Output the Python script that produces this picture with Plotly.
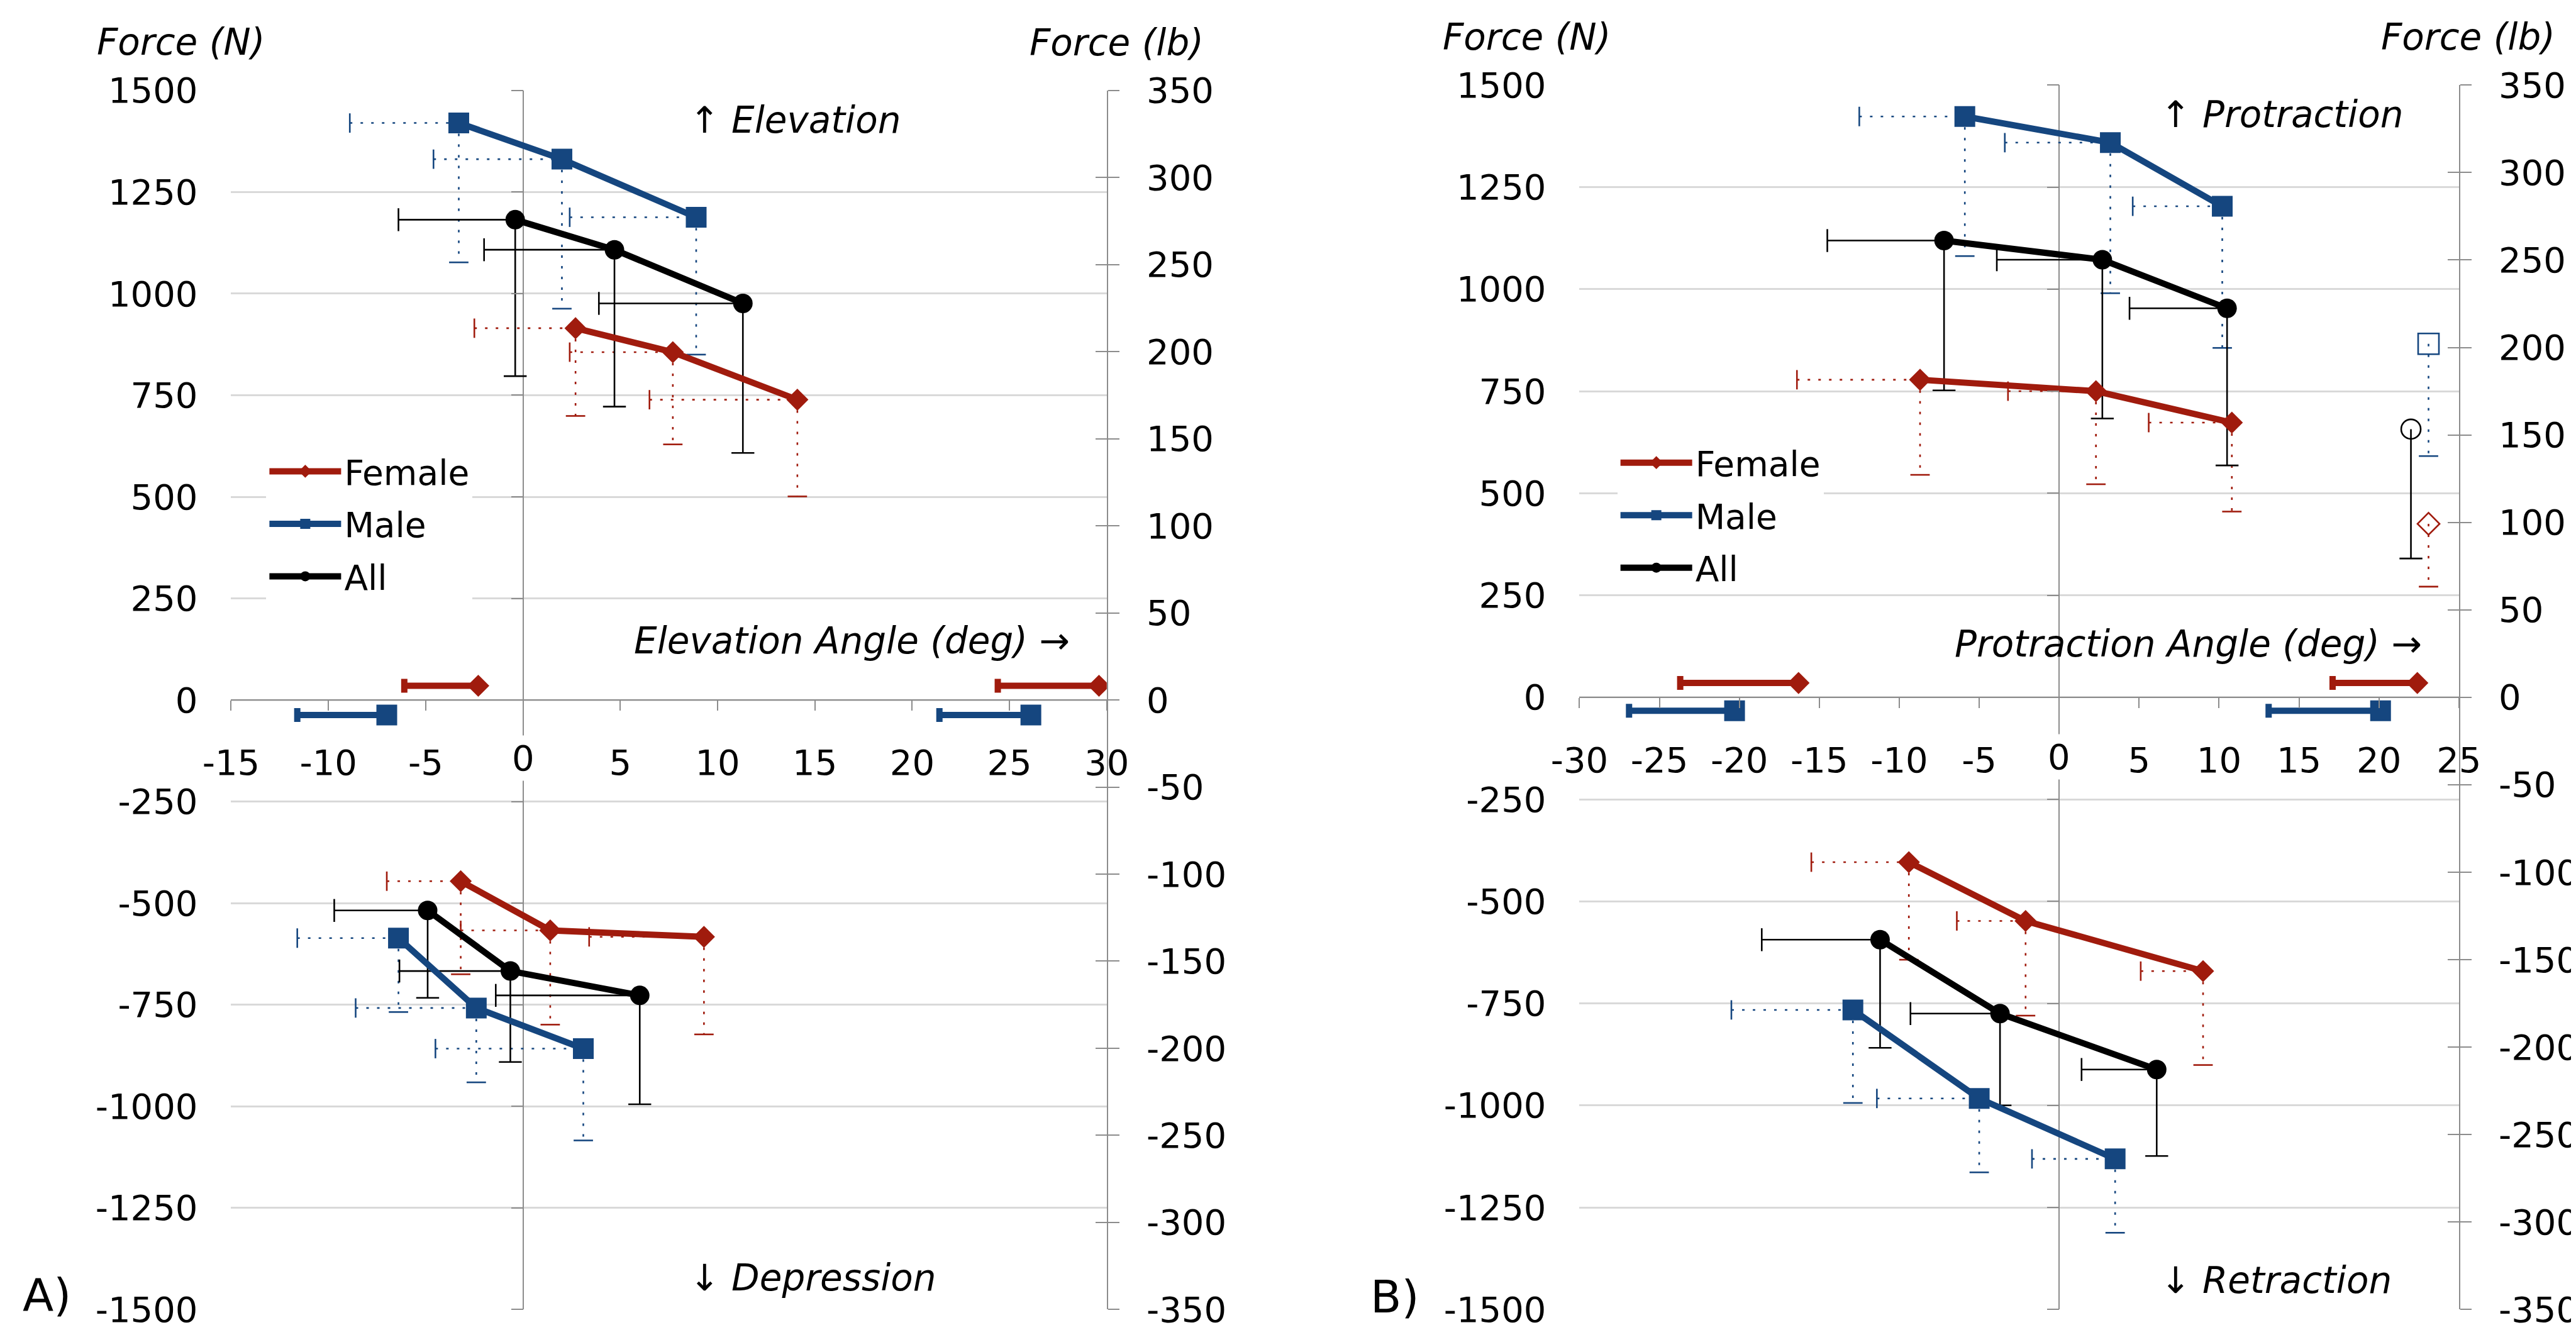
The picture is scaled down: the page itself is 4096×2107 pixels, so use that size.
import plotly.graph_objects as go

# ---------------- scale helpers (reference pixel -> paper) ----------------
S = 0.86
W, H = 4096, 2107


def px(xf):
    return xf * S / W


def py(yf):
    return 1 - yf * S / H


RED = '#a01b0d'
BLUE = '#15467f'
BLACK = '#000000'
GRID = '#d9d9d9'
AXIS = '#8c8c8c'
FONT = 'DejaVu Sans'

# ---------------- tick labels ----------------
N_TICKS = [-1500, -1250, -1000, -750, -500, -250, 0, 250, 500, 750, 1000, 1250, 1500]
LB_TICKS = [-350, -300, -250, -200, -150, -100, -50, 0, 50, 100, 150, 200, 250, 300, 350]
A_X_TICKS = [-15, -10, -5, 0, 5, 10, 15, 20, 25, 30]
B_X_TICKS = [-30, -25, -20, -15, -10, -5, 0, 5, 10, 15, 20, 25]
N_RANGE = [-1500, 1500]
LB_RANGE = [-350, 350]
A_X_RANGE = [-15, 30]
B_X_RANGE = [-30, 25]

# ---------------- DATA : Panel A (elevation / depression) ----------------
A_FEM_ELEV_DEG = [2.7, 7.7, 14.1]
A_FEM_ELEV_N = [915, 856, 739]
A_FEM_ELEV_SD_DEG = [5.2, 5.3, 7.6]
A_FEM_ELEV_SD_N = [216, 227, 238]

A_MALE_ELEV_DEG = [-3.3, 2.0, 8.9]
A_MALE_ELEV_N = [1420, 1331, 1188]
A_MALE_ELEV_SD_DEG = [5.6, 6.6, 6.5]
A_MALE_ELEV_SD_N = [343, 368, 338]

A_ALL_ELEV_DEG = [-0.4, 4.7, 11.3]
A_ALL_ELEV_N = [1182, 1108, 976]
A_ALL_ELEV_SD_DEG = [6.0, 6.7, 7.4]
A_ALL_ELEV_SD_N = [385, 386, 368]

A_FEM_DEP_DEG = [-3.2, 1.4, 9.3]
A_FEM_DEP_N = [-446, -567, -583]
A_FEM_DEP_SD_DEG = [3.8, 4.6, 5.9]
A_FEM_DEP_SD_N = [229, 232, 240]

A_MALE_DEP_DEG = [-6.4, -2.4, 3.1]
A_MALE_DEP_N = [-586, -758, -858]
A_MALE_DEP_SD_DEG = [5.2, 6.2, 7.6]
A_MALE_DEP_SD_N = [182, 183, 226]

A_ALL_DEP_DEG = [-4.9, -0.65, 6.0]
A_ALL_DEP_N = [-518, -667, -727]
A_ALL_DEP_SD_DEG = [4.8, 5.7, 7.4]
A_ALL_DEP_SD_N = [215, 224, 268]

A_FEM_RANGE_DEG = [-2.3, 29.6]
A_FEM_RANGE_SD = [3.8, 5.2]
A_FEM_RANGE_N = [35, 35]
A_MALE_RANGE_DEG = [-7.0, 26.1]
A_MALE_RANGE_SD = [4.6, 4.7]
A_MALE_RANGE_N = [-37, -37]

# ---------------- DATA : Panel B (protraction / retraction) ----------------
B_FEM_PRO_DEG = [-8.7, 2.3, 10.8]
B_FEM_PRO_N = [778, 750, 673]
B_FEM_PRO_SD_DEG = [7.7, 5.5, 5.2]
B_FEM_PRO_SD_N = [233, 228, 218]

B_MALE_PRO_DEG = [-5.9, 3.2, 10.2]
B_MALE_PRO_N = [1423, 1359, 1203]
B_MALE_PRO_SD_DEG = [6.6, 6.6, 5.6]
B_MALE_PRO_SD_N = [342, 369, 347]

B_ALL_PRO_DEG = [-7.2, 2.7, 10.5]
B_ALL_PRO_N = [1119, 1072, 953]
B_ALL_PRO_SD_DEG = [7.3, 6.6, 6.1]
B_ALL_PRO_SD_N = [367, 389, 385]

B_FEM_RET_DEG = [-9.4, -2.1, 9.0]
B_FEM_RET_N = [-404, -548, -671]
B_FEM_RET_SD_DEG = [6.1, 4.3, 3.9]
B_FEM_RET_SD_N = [239, 232, 230]

B_MALE_RET_DEG = [-12.9, -5.0, 3.5]
B_MALE_RET_N = [-766, -983, -1131]
B_MALE_RET_SD_DEG = [7.6, 6.4, 5.2]
B_MALE_RET_SD_N = [228, 181, 181]

B_ALL_RET_DEG = [-11.2, -3.7, 6.1]
B_ALL_RET_N = [-594, -775, -912]
B_ALL_RET_SD_DEG = [7.4, 5.6, 4.7]
B_ALL_RET_SD_N = [265, 225, 212]

B_FEM_RANGE_DEG = [-16.3, 22.4]
B_FEM_RANGE_SD = [7.4, 5.3]
B_FEM_RANGE_N = [35, 35]
B_MALE_RANGE_DEG = [-20.3, 20.1]
B_MALE_RANGE_SD = [6.6, 7.0]
B_MALE_RANGE_N = [-33, -33]

B_ALT_FEM_DEG = [23.1]
B_ALT_FEM_N = [425]
B_ALT_FEM_SD_N = [154]
B_ALT_MALE_DEG = [23.1]
B_ALT_MALE_N = [866]
B_ALT_MALE_SD_N = [275]
B_ALT_ALL_DEG = [22.0]
B_ALT_ALL_N = [657]
B_ALT_ALL_SD_N = [317]


def fmt(v):
    return ('-' if v < 0 else '') + str(abs(v))


fig = go.Figure()

DOT = '4px,13px'


def err_bars(deg, force, sd_deg, sd_n, color, dash, xa, ya, width=2.6, capsize=24):
    xs, ys, cx, cy, sym = [], [], [], [], []
    for x, y, ex, ey in zip(deg, force, sd_deg, sd_n):
        if ex:
            xs += [x - ex, x, None]
            ys += [y, y, None]
            cx.append(x - ex)
            cy.append(y)
            sym.append('line-ns')
        if ey:
            xs += [x, x, None]
            ys += [y, y - ey, None]
            cx.append(x)
            cy.append(y - ey)
            sym.append('line-ew')
    fig.add_trace(go.Scatter(x=xs, y=ys, mode='lines',
                             line=dict(color=color, width=width, dash=dash),
                             xaxis=xa, yaxis=ya, showlegend=False, hoverinfo='skip'))
    fig.add_trace(go.Scatter(x=cx, y=cy, mode='markers',
                             marker=dict(symbol=sym, size=capsize, color=color,
                                         line=dict(color=color, width=width)),
                             xaxis=xa, yaxis=ya, showlegend=False, hoverinfo='skip'))


def series(deg, force, color, symbol, size, name, xa, ya, legend, show):
    fig.add_trace(go.Scatter(x=deg, y=force, mode='lines+markers', name=name,
                             line=dict(color=color, width=10),
                             marker=dict(symbol=symbol, size=size, color=color),
                             xaxis=xa, yaxis=ya, legend=legend, legendgroup=legend + name,
                             showlegend=show, hoverinfo='skip'))


def range_marker(deg, sd, yv, color, symbol, size, xa, ya):
    fig.add_trace(go.Scatter(x=deg, y=yv, mode='markers',
                             marker=dict(symbol=symbol, size=size, color=color),
                             error_x=dict(type='data', symmetric=False, array=[0] * len(deg),
                                          arrayminus=sd, color=color, thickness=10, width=11),
                             xaxis=xa, yaxis=ya, showlegend=False, hoverinfo='skip'))


SQ, CI, DI = 33, 31, 27

# ---------------- Panel A traces ----------------
for d, f, sx, sn in [(A_FEM_ELEV_DEG, A_FEM_ELEV_N, A_FEM_ELEV_SD_DEG, A_FEM_ELEV_SD_N),
                     (A_FEM_DEP_DEG, A_FEM_DEP_N, A_FEM_DEP_SD_DEG, A_FEM_DEP_SD_N)]:
    err_bars(d, f, sx, sn, RED, DOT, 'x', 'y', width=2.6, capsize=22)
for d, f, sx, sn in [(A_MALE_ELEV_DEG, A_MALE_ELEV_N, A_MALE_ELEV_SD_DEG, A_MALE_ELEV_SD_N),
                     (A_MALE_DEP_DEG, A_MALE_DEP_N, A_MALE_DEP_SD_DEG, A_MALE_DEP_SD_N)]:
    err_bars(d, f, sx, sn, BLUE, DOT, 'x', 'y', width=2.6, capsize=22)
for d, f, sx, sn in [(A_ALL_ELEV_DEG, A_ALL_ELEV_N, A_ALL_ELEV_SD_DEG, A_ALL_ELEV_SD_N),
                     (A_ALL_DEP_DEG, A_ALL_DEP_N, A_ALL_DEP_SD_DEG, A_ALL_DEP_SD_N)]:
    err_bars(d, f, sx, sn, BLACK, 'solid', 'x', 'y', width=2.6, capsize=26)

series(A_FEM_ELEV_DEG, A_FEM_ELEV_N, RED, 'diamond', DI, 'Female', 'x', 'y', 'legend', True)
series(A_FEM_DEP_DEG, A_FEM_DEP_N, RED, 'diamond', DI, 'Female', 'x', 'y', 'legend', False)
series(A_MALE_ELEV_DEG, A_MALE_ELEV_N, BLUE, 'square', SQ, 'Male', 'x', 'y', 'legend', True)
series(A_MALE_DEP_DEG, A_MALE_DEP_N, BLUE, 'square', SQ, 'Male', 'x', 'y', 'legend', False)
series(A_ALL_ELEV_DEG, A_ALL_ELEV_N, BLACK, 'circle', CI, 'All', 'x', 'y', 'legend', True)
series(A_ALL_DEP_DEG, A_ALL_DEP_N, BLACK, 'circle', CI, 'All', 'x', 'y', 'legend', False)

range_marker(A_FEM_RANGE_DEG, A_FEM_RANGE_SD, A_FEM_RANGE_N, RED, 'diamond', DI, 'x', 'y')
range_marker(A_MALE_RANGE_DEG, A_MALE_RANGE_SD, A_MALE_RANGE_N, BLUE, 'square', SQ, 'x', 'y')

# ---------------- Panel B traces ----------------
for d, f, sx, sn in [(B_FEM_PRO_DEG, B_FEM_PRO_N, B_FEM_PRO_SD_DEG, B_FEM_PRO_SD_N),
                     (B_FEM_RET_DEG, B_FEM_RET_N, B_FEM_RET_SD_DEG, B_FEM_RET_SD_N),
                     (B_ALT_FEM_DEG, B_ALT_FEM_N, [0], B_ALT_FEM_SD_N)]:
    err_bars(d, f, sx, sn, RED, DOT, 'x2', 'y5', width=2.6, capsize=22)
for d, f, sx, sn in [(B_MALE_PRO_DEG, B_MALE_PRO_N, B_MALE_PRO_SD_DEG, B_MALE_PRO_SD_N),
                     (B_MALE_RET_DEG, B_MALE_RET_N, B_MALE_RET_SD_DEG, B_MALE_RET_SD_N),
                     (B_ALT_MALE_DEG, B_ALT_MALE_N, [0], B_ALT_MALE_SD_N)]:
    err_bars(d, f, sx, sn, BLUE, DOT, 'x2', 'y5', width=2.6, capsize=22)
for d, f, sx, sn in [(B_ALL_PRO_DEG, B_ALL_PRO_N, B_ALL_PRO_SD_DEG, B_ALL_PRO_SD_N),
                     (B_ALL_RET_DEG, B_ALL_RET_N, B_ALL_RET_SD_DEG, B_ALL_RET_SD_N),
                     (B_ALT_ALL_DEG, B_ALT_ALL_N, [0], B_ALT_ALL_SD_N)]:
    err_bars(d, f, sx, sn, BLACK, 'solid', 'x2', 'y5', width=2.6, capsize=26)

series(B_FEM_PRO_DEG, B_FEM_PRO_N, RED, 'diamond', DI, 'Female', 'x2', 'y5', 'legend2', True)
series(B_FEM_RET_DEG, B_FEM_RET_N, RED, 'diamond', DI, 'Female', 'x2', 'y5', 'legend2', False)
series(B_MALE_PRO_DEG, B_MALE_PRO_N, BLUE, 'square', SQ, 'Male', 'x2', 'y5', 'legend2', True)
series(B_MALE_RET_DEG, B_MALE_RET_N, BLUE, 'square', SQ, 'Male', 'x2', 'y5', 'legend2', False)
series(B_ALL_PRO_DEG, B_ALL_PRO_N, BLACK, 'circle', CI, 'All', 'x2', 'y5', 'legend2', True)
series(B_ALL_RET_DEG, B_ALL_RET_N, BLACK, 'circle', CI, 'All', 'x2', 'y5', 'legend2', False)

range_marker(B_FEM_RANGE_DEG, B_FEM_RANGE_SD, B_FEM_RANGE_N, RED, 'diamond', DI, 'x2', 'y5')
range_marker(B_MALE_RANGE_DEG, B_MALE_RANGE_SD, B_MALE_RANGE_N, BLUE, 'square', SQ, 'x2', 'y5')

for d, f, c, sym, sz in [(B_ALT_MALE_DEG, B_ALT_MALE_N, BLUE, 'square-open', SQ),
                         (B_ALT_ALL_DEG, B_ALT_ALL_N, BLACK, 'circle-open', CI),
                         (B_ALT_FEM_DEG, B_ALT_FEM_N, RED, 'diamond-open', DI)]:
    fig.add_trace(go.Scatter(x=d, y=f, mode='markers',
                             marker=dict(symbol=sym, size=sz, color=c, line=dict(color=c, width=2.6)),
                             xaxis='x2', yaxis='y5', showlegend=False, hoverinfo='skip'))

for xa, ya in [('x', 'y2'), ('x', 'y3'), ('x', 'y4'), ('x2', 'y6'), ('x2', 'y7'), ('x2', 'y8'),
               ('x3', 'y'), ('x4', 'y5')]:
    fig.add_trace(go.Scatter(x=[None], y=[None], xaxis=xa, yaxis=ya, showlegend=False,
                             hoverinfo='skip', mode='markers'))

# ---------------- axes ----------------
TICKFONT = dict(family=FONT, size=56, color='black')
LABEL_DROP = -4 / H   # offset of the angle-axis label row relative to the axis line


def x_axis(dom, rng, ticks, pos):
    return dict(domain=dom, range=rng, anchor='free', position=pos, automargin=False,
                tickmode='array', tickvals=ticks, showticklabels=False,
                ticks='outside', ticklen=16, tickwidth=2, tickcolor=AXIS,
                showline=True, linecolor=AXIS, linewidth=2, showgrid=False,
                zeroline=True, zerolinecolor=AXIS, zerolinewidth=2, fixedrange=True)


def x_labels(over, rng, ticks, pos):
    # the "0" label is drawn separately with a white backing (it interrupts the x=0 line)
    return dict(overlaying=over, range=rng, anchor='free', position=pos, automargin=False,
                tickmode='array', tickvals=ticks,
                ticktext=['' if t == 0 else fmt(t) for t in ticks],
                ticks='outside', ticklen=16, tickcolor='rgba(0,0,0,0)', showline=False,
                showgrid=False, zeroline=False, tickfont=TICKFONT, ticklabelstandoff=39,
                fixedrange=True)


def y_main(dom, anchor):
    return dict(domain=dom, range=N_RANGE, anchor=anchor, side='left', automargin=False,
                tickmode='array', tickvals=N_TICKS, ticktext=[fmt(t) for t in N_TICKS],
                showgrid=True, gridcolor=GRID, gridwidth=2.5, ticks='', showline=False,
                zeroline=False, tickfont=TICKFONT, ticklabelstandoff=52, fixedrange=True)


def y_zero_ticks(over, pos):
    return dict(overlaying=over, anchor='free', position=pos, side='left', range=N_RANGE,
                automargin=False, tickmode='array', tickvals=N_TICKS,
                ticks='outside', ticklen=19, tickwidth=2, tickcolor=AXIS,
                showticklabels=False, showgrid=False, zeroline=False, showline=False,
                fixedrange=True)


def y_lb(over, anchor, labels):
    d = dict(overlaying=over, anchor=anchor, side='right', range=LB_RANGE, automargin=False,
             tickmode='array', tickvals=LB_TICKS, ticktext=[fmt(t) for t in LB_TICKS],
             ticklen=18, tickwidth=2, tickcolor=AXIS, showgrid=False,
             zeroline=False, fixedrange=True)
    if labels:
        d.update(ticks='outside', showline=True, linecolor=AXIS, linewidth=2,
                 tickfont=TICKFONT, ticklabelstandoff=32)
    else:
        d.update(ticks='inside', showline=False, showticklabels=False)
    return d


A_XDOM = [px(418), px(2037)]
A_YDOM = [py(2412), py(158)]
B_XDOM = [px(2911), px(4537)]
B_YDOM = [py(2412), py(148)]

A_Y0 = (A_YDOM[0] + A_YDOM[1]) / 2
B_Y0 = (B_YDOM[0] + B_YDOM[1]) / 2
A_X0 = A_XDOM[0] + (A_XDOM[1] - A_XDOM[0]) * (0 - A_X_RANGE[0]) / (A_X_RANGE[1] - A_X_RANGE[0])
B_X0 = B_XDOM[0] + (B_XDOM[1] - B_XDOM[0]) * (0 - B_X_RANGE[0]) / (B_X_RANGE[1] - B_X_RANGE[0])

LEGFONT = dict(family=FONT, size=55, color='black')
layout = dict(
    width=W, height=H, autosize=False,
    margin=dict(l=0, r=0, t=0, b=0, pad=0, autoexpand=False),
    paper_bgcolor='white', plot_bgcolor='rgba(0,0,0,0)',
    font=dict(family=FONT, size=55, color='black'),
    xaxis=x_axis(A_XDOM, A_X_RANGE, A_X_TICKS, A_Y0),
    xaxis3=x_labels('x', A_X_RANGE, A_X_TICKS, A_Y0 - LABEL_DROP),
    yaxis=y_main(A_YDOM, 'x'),
    yaxis2=y_lb('y', 'x', True),
    yaxis3=y_lb('y', 'x', False),
    yaxis4=y_zero_ticks('y', A_X0),
    xaxis2=x_axis(B_XDOM, B_X_RANGE, B_X_TICKS, B_Y0),
    xaxis4=x_labels('x2', B_X_RANGE, B_X_TICKS, B_Y0 - LABEL_DROP),
    yaxis5=y_main(B_YDOM, 'x2'),
    yaxis6=y_lb('y5', 'x2', True),
    yaxis7=y_lb('y5', 'x2', False),
    yaxis8=y_zero_ticks('y5', B_X0),
    legend=dict(x=px(483), y=py(813), xanchor='left', yanchor='top', bgcolor='white',
                borderwidth=0, font=LEGFONT, tracegroupgap=9, itemsizing='trace',
                itemwidth=114),
    legend2=dict(x=px(2981), y=py(797), xanchor='left', yanchor='top', bgcolor='white',
                 borderwidth=0, font=LEGFONT, tracegroupgap=9, itemsizing='trace',
                 itemwidth=114),
    showlegend=True,
)
fig.update_layout(**layout)

# "0" tick labels of the angle axes, with a white backing like the reference
for xref, yf in [('x', 1393), ('x2', 1390)]:
    fig.add_annotation(text='0', x=0, xref=xref, y=py(yf), yref='paper', xanchor='center',
                       yanchor='middle', showarrow=False, bgcolor='white', borderpad=3,
                       font=TICKFONT)

AF = dict(family=FONT, size=58, color='black')


def ann(text, xf, yf, xanchor='left', size=None):
    f = dict(AF)
    if size:
        f['size'] = size
    fig.add_annotation(text=text, x=px(xf), y=py(yf), xref='paper', yref='paper',
                       xanchor=xanchor, yanchor='middle', showarrow=False, font=f)


ann('<i>Force (N)</i>', 168, 69)
ann('<i>Force (lb)</i>', 2219, 70, 'right')
ann('\u2191 <i>Elevation</i>', 1263, 213)
ann('<i>Elevation Angle (deg)</i> \u2192', 1971, 1175, 'right')
ann('\u2193 <i>Depression</i>', 1263, 2354)
ann('A)', 30, 2385, 'left', 72)

ann('<i>Force (N)</i>', 2656, 59)
ann('<i>Force (lb)</i>', 4718, 59, 'right')
ann('\u2191 <i>Protraction</i>', 3982, 202)
ann('<i>Protraction Angle (deg)</i> \u2192', 4471, 1181, 'right')
ann('\u2193 <i>Retraction</i>', 3982, 2358)
ann('B)', 2522, 2388, 'left', 72)

fig.write_html('out.html')
